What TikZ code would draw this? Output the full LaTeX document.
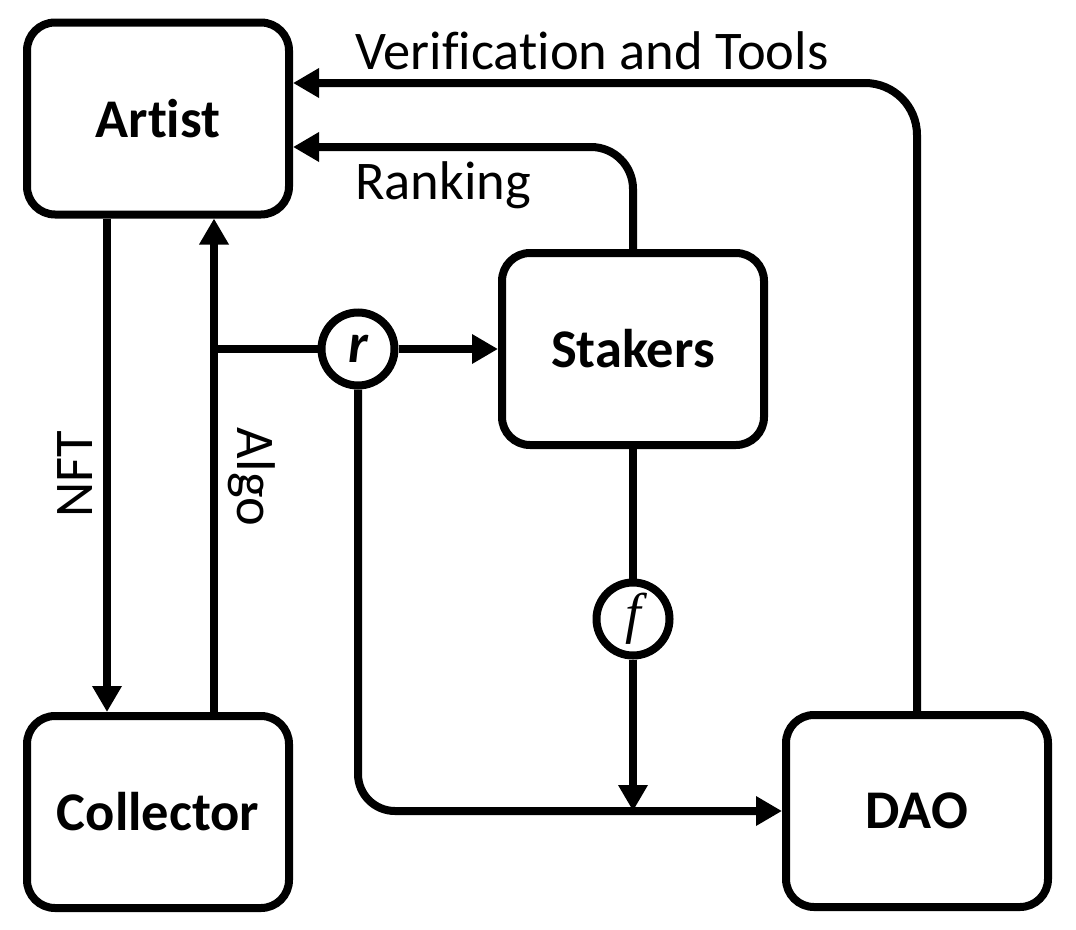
\documentclass[tikz,border=0pt]{standalone}
\usepackage{fontspec}
\setmainfont{Carlito}[Ligatures={NoCommon,NoContextual,NoRare}]
\newfontfamily\fserif{Liberation Serif}
\usetikzlibrary{arrows.meta}
\begin{document}
\begin{tikzpicture}[x=1pt,y=-1pt,
  box/.style={draw, line width=8pt, rounded corners=28pt, minimum width=262pt, minimum height=192pt, inner sep=0pt, font=\fontsize{54.5}{64}\selectfont\bfseries},
  op/.style={draw, circle, line width=8pt, minimum size=73pt, inner sep=0pt, fill=white},
  conn/.style={line width=8pt},
  arr/.style={line width=8pt, -{Triangle[length=26pt,width=28pt]}},
  lbl/.style={inner sep=0pt, font=\fontsize{54.5}{64}\selectfont}
]
\fill[white] (0,0) rectangle (1076,929);
\useasboundingbox (0,0) rectangle (1076,929);

\node[box] (Artist) at (158,118.5) {Artist};
\node[box] (Collector) at (158,812) {Collector};
\node[box] (Stakers) at (633,349) {Stakers};
\node[box] (DAO) at (917,811) {DAO};
\node[op] (r) at (358,349) {\fontsize{56}{64}\selectfont\bfseries\itshape r};
\node[op] (f) at (633,619) {\fserif\fontsize{56}{64}\selectfont\itshape f};

\coordinate (nftx) at (107,0);
\coordinate (algox) at (214,0);
\coordinate (J) at (214,349);
\coordinate (rk) at (0,147);
\coordinate (vt) at (0,83);

% NFT / Algo
\draw[arr] (Artist.south -| nftx) -- (Collector.north -| nftx);
\draw[arr] (Collector.north -| algox) -- (Artist.south -| algox);
% junction to r to Stakers
\draw[conn] (J) -- (r.west);
\draw[arr] (r.east) -- (Stakers.west |- r.east);
% r to DAO
\draw[arr, rounded corners=37pt] (r.south) |- (DAO.west);
% Stakers to f to DAO line
\draw[conn] (Stakers.south) -- (f.north);
\draw[arr] (f.south) -- (f |- DAO.west);
% Ranking
\draw[arr, rounded corners=42pt] (Stakers.north) |- (Artist.east |- rk);
% Verification and Tools
\draw[arr, rounded corners=52pt] (DAO.north) |- (Artist.east |- vt);

% labels
\node[lbl, anchor=base west] (vlbl) at (355,69) {Verification and Tools};
\node[lbl, anchor=base west] (rlbl) at (355,199) {Ranking};
\node[lbl, anchor=base, rotate=90] (nlbl) at (92,474) {NFT};
\node[lbl, anchor=base, rotate=-90] (albl) at (237,477) {Algo};
\end{tikzpicture}
\end{document}
